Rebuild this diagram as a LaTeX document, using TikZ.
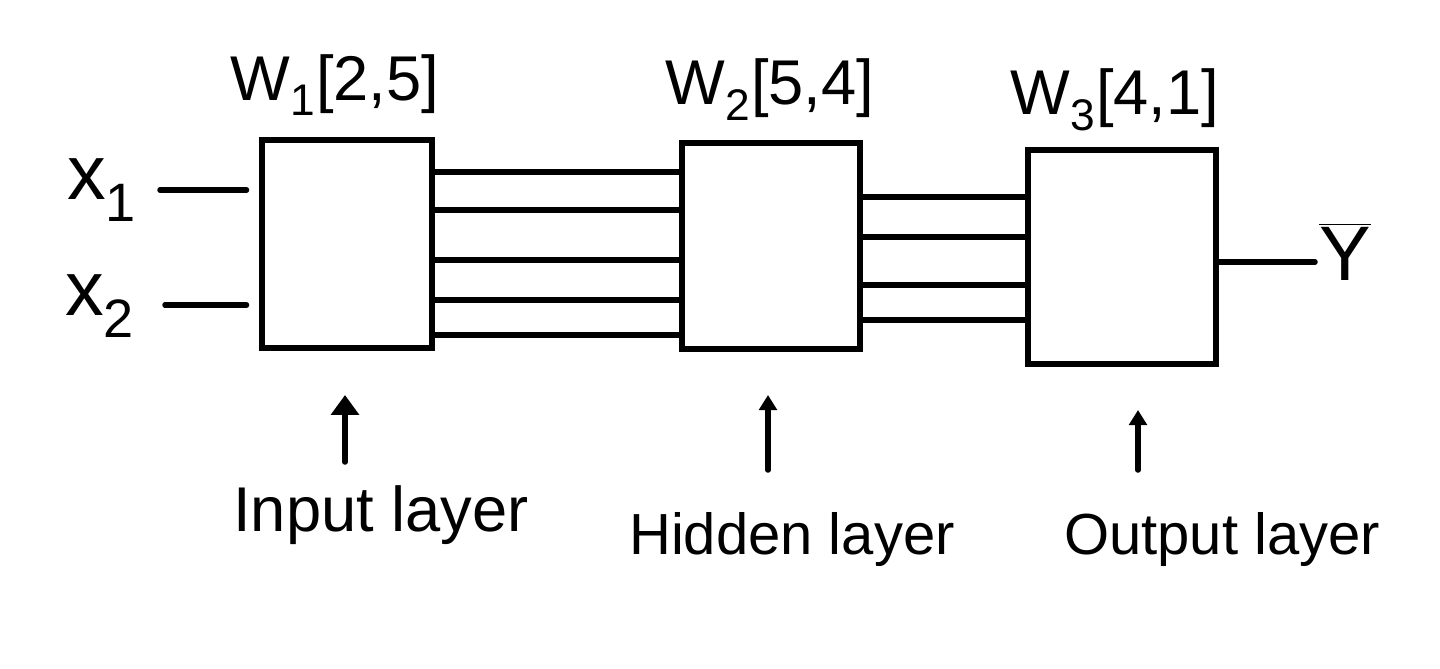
\documentclass[tikz,border=0pt]{standalone}
\usepackage{fontspec}
\setmainfont{Liberation Sans}
\usetikzlibrary{arrows.meta,calc}
\begin{document}
\begin{tikzpicture}[x=0.02cm,y=-0.02cm,line width=0.11cm,line cap=round,
  layerbox/.style={draw,line width=0.12cm,inner sep=0pt},
  lbl/.style={font=\fontsize{36}{42}\selectfont,inner sep=0pt},
  smlbl/.style={font=\fontsize{33}{40}\selectfont,inner sep=0pt},
  inlbl/.style={font=\fontsize{44}{48}\selectfont,inner sep=0pt},
  wire/.style={line width=0.11cm},
  upar/.style={line width=0.11cm,-{Triangle[width=0.55cm,length=0.4cm]}},
  smallar/.style={line width=0.11cm,-{Triangle[width=0.35cm,length=0.3cm]}}]
\useasboundingbox (0,0) rectangle (1440,669);
% boxes
\node[layerbox,minimum width=3.4cm,minimum height=4.16cm] (b1) at (347,244) {};
\node[layerbox,minimum width=3.56cm,minimum height=4.14cm] (b2) at (771,246) {};
\node[layerbox,minimum width=3.78cm,minimum height=4.3cm] (b3) at (1122,257) {};
% weight labels
\node[lbl] (w1) at (335,85) {W\textsubscript{1}[2,5]};
\node[lbl] (w2) at (770,90) {W\textsubscript{2}[5,4]};
\node[lbl] (w3) at (1115,100) {W\textsubscript{3}[4,1]};
% inputs
\node[inlbl] (x1) at (102,190) {x\textsubscript{1}};
\node[inlbl] (x2) at (100,306) {x\textsubscript{2}};
\coordinate (y1) at (0,190);
\coordinate (y2) at (0,305);
\draw[wire,shorten >=0.25cm] (160,190) coordinate (x1s) -- (b1.west |- y1);
\draw[wire,shorten >=0.25cm] (165,305) coordinate (x2s) -- (b1.west |- y2);
% connections box1 -> box2
\foreach \i/\yy in {1/172,2/210,3/260,4/300,5/335}{
  \coordinate (h\i) at (0,\yy);
  \draw[wire] (b1.east |- h\i) -- (b2.west |- h\i);
}
% connections box2 -> box3
\foreach \i/\yy in {1/197,2/237,3/285,4/320}{
  \coordinate (o\i) at (0,\yy);
  \draw[wire] (b2.east |- o\i) -- (b3.west |- o\i);
}
% output
\node[inlbl] (yout) at (1345,252) {$\overline{\mbox{Y}}$};
\coordinate (yo) at (0,262);
\draw[wire] (b3.east |- yo) -- (1315,262);
% layer labels
\node[lbl] (lin) at (381,515) {Input layer};
\node[smlbl] (lhid) at (792,540) {Hidden layer};
\node[smlbl] (lout) at (1222,540) {Output layer};
\coordinate (a1t) at (345,395);
\coordinate (a1b) at (345,462);
\coordinate (a2t) at (768,395);
\coordinate (a2b) at (768,470);
\coordinate (a3t) at (1138,410);
\coordinate (a3b) at (1138,470);
\draw[upar] (a1b) -- (a1t);
\draw[smallar] (a2b) -- (a2t);
\draw[smallar] (a3b) -- (a3t);
\end{tikzpicture}
\end{document}
